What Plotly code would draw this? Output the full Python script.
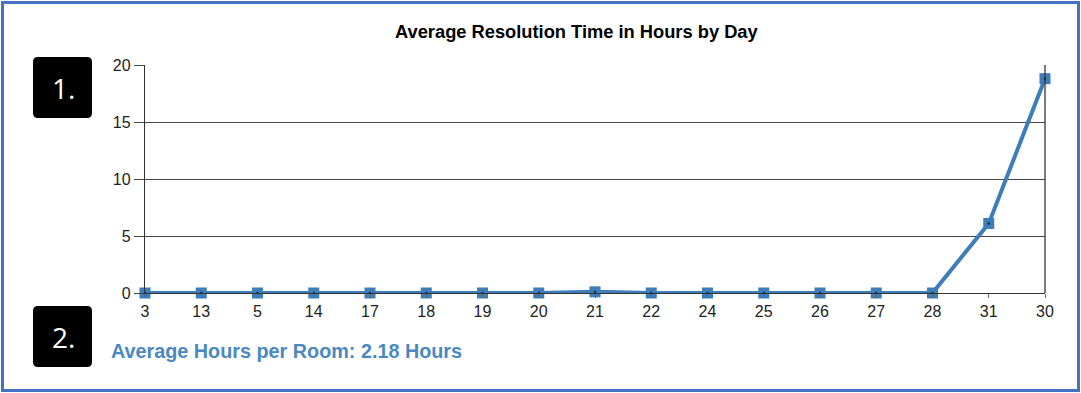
import plotly.graph_objects as go

days = ["3", "13", "5", "14", "17", "18", "19", "20", "21", "22", "24", "25", "26", "27", "28", "31", "30"]
avg_hours = [0, 0, 0, 0, 0, 0, 0, 0, 0.1, 0, 0, 0, 0, 0, 0, 6.1, 18.8]
y_ticks = [0, 5, 10, 15, 20]
title_text = "Average Resolution Time in Hours by Day"
summary_text = "Average Hours per Room: 2.18 Hours"

W, H = 1081, 393
L, R, T, B = 145, 36, 65, 100
PW, PH = W - L - R, H - T - B

def px(x):
    return (x - L) / PW

def py(y):
    return 1 - (y - T) / PH

def rounded_rect(x0, y0, x1, y1, r):
    X0, X1 = px(x0), px(x1)
    Y0, Y1 = py(y0), py(y1)
    rx, ry = r / PW, r / PH
    return (f"M {X0+rx},{Y0} L {X1-rx},{Y0} Q {X1},{Y0} {X1},{Y0-ry} "
            f"L {X1},{Y1+ry} Q {X1},{Y1} {X1-rx},{Y1} L {X0+rx},{Y1} "
            f"Q {X0},{Y1} {X0},{Y1+ry} L {X0},{Y0-ry} Q {X0},{Y0} {X0+rx},{Y0} Z")

line_color = "#3D7DBA"

fig = go.Figure()
fig.add_trace(go.Scatter(
    x=days, y=avg_hours, mode="lines+markers",
    line=dict(color=line_color, width=4),
    marker=dict(symbol="square", size=11, color=line_color),
    cliponaxis=False, hoverinfo="x+y",
))
fig.add_trace(go.Scatter(
    x=days, y=avg_hours, mode="markers",
    marker=dict(symbol="circle", size=2.5, color="#1a2a3a"),
    cliponaxis=False, hoverinfo="skip",
))

shapes = [
    dict(type="rect", xref="paper", yref="paper",
         x0=px(2.5), x1=px(1078.5), y0=py(2.5), y1=py(390.5),
         line=dict(color="#4472C4", width=3), fillcolor="rgba(0,0,0,0)", layer="below"),
    dict(type="path", xref="paper", yref="paper", path=rounded_rect(33, 57, 92, 118, 5),
         fillcolor="black", line=dict(width=0)),
    dict(type="path", xref="paper", yref="paper", path=rounded_rect(33, 306, 92, 367, 5),
         fillcolor="black", line=dict(width=0)),
    dict(type="line", xref="paper", yref="paper", x0=1, x1=1, y0=0, y1=1,
         line=dict(color="#333", width=1.3)),
]

annotations = [
    dict(text="<b>" + title_text + "</b>", xref="paper", yref="paper",
         x=px(577), y=py(32), showarrow=False, xanchor="center", yanchor="middle",
         font=dict(family="Liberation Sans, Arial", size=18.3, color="black")),
    dict(text="<b>" + summary_text + "</b>", xref="paper", yref="paper",
         x=px(109), y=py(351), showarrow=False, xanchor="left", yanchor="middle",
         font=dict(family="Liberation Sans, Arial", size=19.8, color="#4A88C2")),
    dict(text="1.", xref="paper", yref="paper", x=px(63), y=py(88), showarrow=False,
         xanchor="center", yanchor="middle",
         font=dict(family="Open Sans, Lato, sans-serif", size=28, color="white")),
    dict(text="2.", xref="paper", yref="paper", x=px(63), y=py(337), showarrow=False,
         xanchor="center", yanchor="middle",
         font=dict(family="Open Sans, Lato, sans-serif", size=28, color="white")),
]

fig.update_layout(
    width=W, height=H,
    margin=dict(l=L, r=R, t=T, b=B, pad=0),
    paper_bgcolor="white", plot_bgcolor="white",
    showlegend=False,
    shapes=shapes, annotations=annotations,
    font=dict(family="Liberation Sans, Arial", size=16, color="#222"),
    xaxis=dict(type="category", range=[0, len(days) - 1], showgrid=False,
               showline=True, linecolor="#333", linewidth=1.3, mirror=False,
               ticks="outside", ticklen=4, tickcolor="#666",
               tickfont=dict(size=16, color="#222"), zeroline=False),
    yaxis=dict(range=[0, 20], tickvals=y_ticks, showgrid=True, gridcolor="#444", gridwidth=1.3,
               showline=True, linecolor="#333", linewidth=1.3, mirror=False,
               ticks="outside", ticklen=10, tickcolor="#444", tickwidth=1.3,
               tickfont=dict(size=16, color="#222"), zeroline=False),
)

fig.write_html("out.html", config={"displayModeBar": False},
               post_script="document.body.style.margin='0';document.body.style.overflow='hidden';")
